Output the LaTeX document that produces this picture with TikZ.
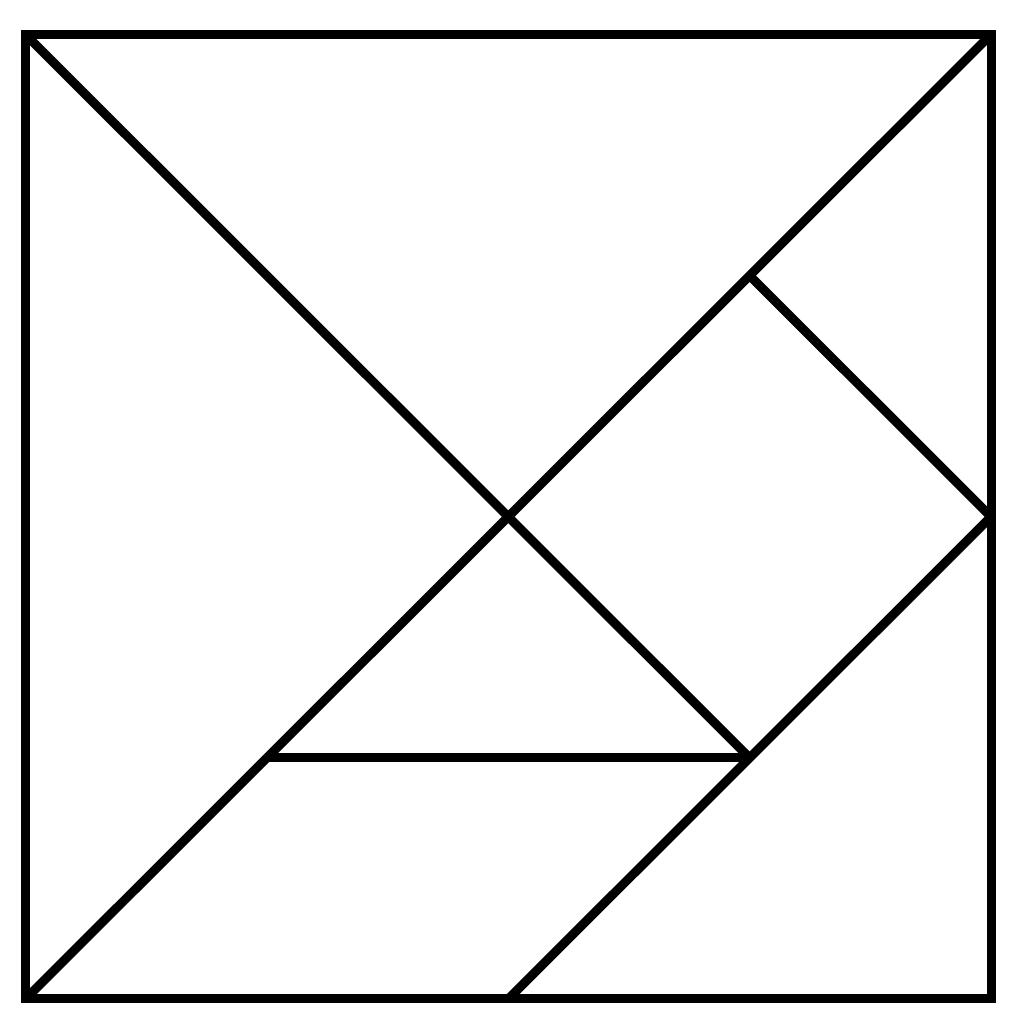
\documentclass[tikz,border=0pt]{standalone}
\begin{document}
\begin{tikzpicture}[x=1pt,y=1pt,edge/.style={line width=9pt,black,line join=miter}]
\useasboundingbox (0,0) rectangle (1016,1023);
\coordinate (A) at (25.5,988.5);
\coordinate (B) at (991,988.5);
\coordinate (D) at (25.5,24);
\coordinate (E) at (991,24);
\coordinate (C) at (508.25,506.25);
\coordinate (MR) at (991,506.25);
\coordinate (MB) at (508.25,24);
\coordinate (P) at (749.6,747.4);
\coordinate (Q) at (266.9,265.1);
\coordinate (S) at (749.6,265.1);
\draw[edge] (A) -- (B) -- (E) -- (D) -- cycle;
\draw[edge] (A) -- (C) -- (S);
\draw[edge] (D) -- (Q) -- (C) -- (P) -- (B);
\draw[edge] (P) -- (MR);
\draw[edge] (MR) -- (S) -- (MB);
\draw[edge] (Q) -- (S);
\end{tikzpicture}
\end{document}
